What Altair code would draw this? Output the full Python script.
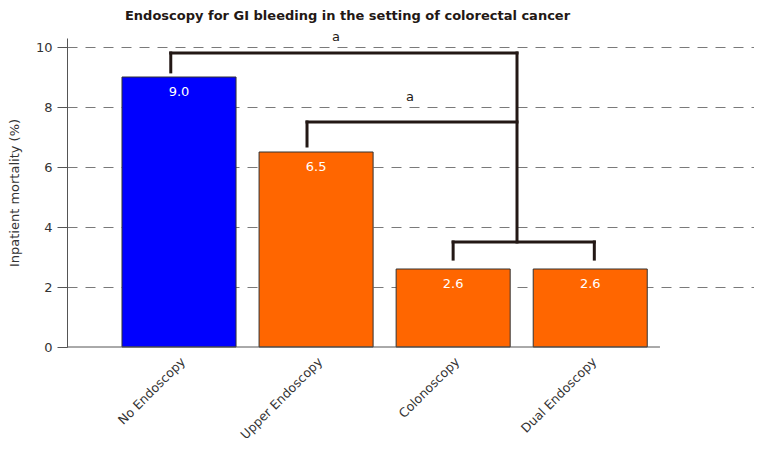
import altair as alt
import pandas as pd

# ---- data ----
categories = ["No Endoscopy", "Upper Endoscopy", "Colonoscopy", "Dual Endoscopy"]
mortality = [9.0, 6.5, 2.6, 2.6]
bar_colors = ["#0000FF", "#FF6600", "#FF6600", "#FF6600"]
value_labels = ["9.0", "6.5", "2.6", "2.6"]

# significance brackets (x in category-index units, y in %)
br_x = [-0.06, -0.06, 2.466, 0.934, 0.934, 2.0, 2.0, 3.03]
br_x2 = [-0.06, 2.466, 2.466, 2.466, 0.934, 3.03, 2.0, 3.03]
br_y = [9.17, 9.8, 3.5, 7.5, 6.7, 3.5, 2.93, 2.93]
br_y2 = [9.8, 9.8, 9.8, 7.5, 7.5, 3.5, 3.5, 3.5]

sig_x = [1.145, 1.685]
sig_y = [10.35, 8.33]
sig_text = ["a", "a"]

y_ticks = [0, 2, 4, 6, 8, 10]

FONT = "DejaVu Sans"
INK = "#231815"

bars_df = pd.DataFrame({"cat": categories, "val": mortality, "color": bar_colors, "lab": value_labels})
br_df = pd.DataFrame({"x": br_x, "x2": br_x2, "y": br_y, "y2": br_y2})
sig_df = pd.DataFrame({"x": sig_x, "y": sig_y, "t": sig_text})

W, H = 687, 309

yscale = alt.Scale(domain=[0, 10.3], nice=False, zero=True)
xband = alt.Scale(domain=categories, paddingInner=0.168, paddingOuter=0.59, align=0.34)
xq = alt.Scale(domain=[-0.817, 4.195], nice=False, zero=False)

base = alt.Chart(bars_df)

xaxis = alt.Axis(labelAngle=-45, domain=False, ticks=False, labelPadding=8,
                 labelFont=FONT, labelFontSize=12.5, labelColor="#333333", grid=False)

bars = base.mark_bar(stroke="#333333", strokeWidth=1).encode(
    x=alt.X("cat:N", scale=xband, sort=categories, title=None, axis=xaxis),
    y=alt.Y("val:Q", scale=yscale, title="Inpatient mortality (%)",
            axis=alt.Axis(values=y_ticks, tickSize=10, tickColor="#555555", domainColor="#555555",
                          labelFont=FONT, labelFontSize=13, labelColor="#333333", labelPadding=5,
                          titleFont=FONT, titleFontSize=13, titleFontWeight="normal",
                          titleColor="#333333", titlePadding=14,
                          grid=True, gridDash=[10, 8], gridColor="#7a7a7a", gridWidth=1,
                          gridOpacity={"condition": {"test": "datum.value === 0", "value": 0}, "value": 1})),
    color=alt.Color("color:N", scale=None),
)

vals = base.mark_text(color="white", font=FONT, fontSize=13, baseline="middle", dy=15).encode(
    x=alt.X("cat:N", scale=xband, sort=categories, title=None, axis=xaxis),
    y=alt.Y("val:Q", scale=yscale),
    text="lab:N",
)

bar_layer = alt.layer(bars, vals)

brackets = alt.Chart(br_df).mark_rule(color=INK, strokeWidth=3, strokeCap="square").encode(
    x=alt.X("x:Q", scale=xq, axis=None),
    x2="x2:Q",
    y=alt.Y("y:Q", scale=yscale),
    y2="y2:Q",
)

sig = alt.Chart(sig_df).mark_text(color=INK, font=FONT, fontSize=13, baseline="middle").encode(
    x=alt.X("x:Q", scale=xq, axis=None),
    y=alt.Y("y:Q", scale=yscale),
    text="t:N",
)

axis_line = alt.Chart(pd.DataFrame({"x": [-0.817], "x2": [3.509], "y": [0]})).mark_rule(
    color="#555555", strokeWidth=1).encode(
    x=alt.X("x:Q", scale=xq, axis=None),
    x2="x2:Q",
    y=alt.Y("y:Q", scale=yscale),
)

over_layer = alt.layer(axis_line, brackets, sig)

chart = alt.layer(bar_layer, over_layer).resolve_scale(x="independent").properties(
    width=W, height=H,
    background="white",
    title=alt.TitleParams(
        "Endoscopy for GI bleeding in the setting of colorectal cancer",
        font=FONT, fontSize=13, fontWeight="bold", color=INK,
        anchor="middle", frame="group", dx=-63, offset=8,
    ),
    autosize=alt.AutoSizeParams(type="none"),
    padding={"left": 59, "top": 30, "right": 0, "bottom": 110},
).configure_view(stroke=None, strokeWidth=0).configure_axisX(
    domain=False, grid=False, ticks=False
)

chart.save("out.html", embed_options={"renderer": "svg", "actions": False})
